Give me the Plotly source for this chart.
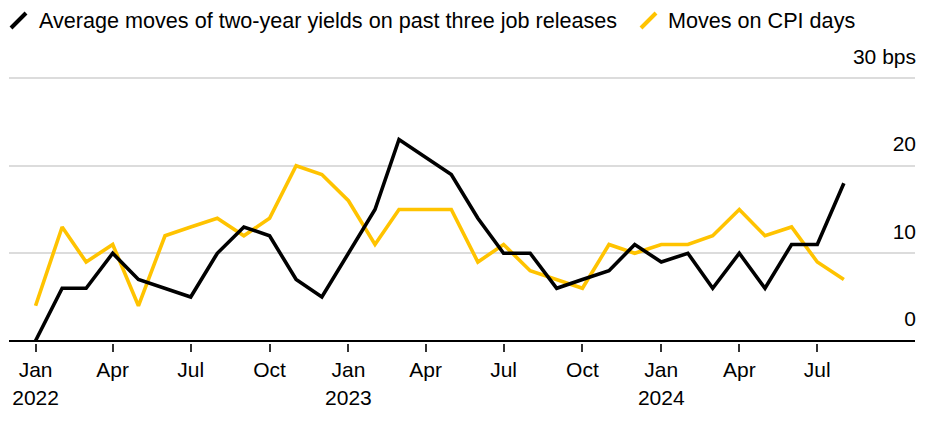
import pandas as pd
import plotly.graph_objects as go

months = pd.date_range("2022-01-01", "2024-08-01", freq="MS")

job_moves = [0, 6, 6, 10, 7, 6, 5, 10, 13, 12, 7, 5,
             10, 15, 23, 21, 19, 14, 10, 10, 6, 7, 8, 11,
             9, 10, 6, 10, 6, 11, 11, 18]
cpi_moves = [4, 13, 9, 11, 4, 12, 13, 14, 12, 14, 20, 19,
             16, 11, 15, 15, 15, 9, 11, 8, 7, 6, 11, 10,
             11, 11, 12, 15, 12, 13, 9, 7]

series_names = ["Average moves of two-year yields on past three job releases",
                "Moves on CPI days"]
series_colors = ["#000000", "#ffc300"]

x_tickvals = pd.date_range("2022-01-01", "2024-07-01", freq="QS")
x_ticktext = ["Jan<br>2022", "Apr", "Jul", "Oct",
              "Jan<br>2023", "Apr", "Jul", "Oct",
              "Jan<br>2024", "Apr", "Jul"]
y_tickvals = [0, 10, 20, 30]
y_ticktext = ["0", "10", "20", "30 bps"]

FONT = "Liberation Sans, Arial, sans-serif"
OFF = 8  # page body margin
W, H = 942 - OFF, 424 - OFF
Y_TOP = 35.5
Y_BOT = -0.25
# target page pixels: x 9..915, y(0)=341, y(30)=78
ppu = (341 - 78) / 30.0
plot_top_page = 341 - (Y_TOP * ppu)
plot_bot_page = 341 - (Y_BOT * ppu)
ML = 9 - OFF
MR = W - (915 - OFF)
MT = int(round(plot_top_page - OFF))
MB = int(round(H - (plot_bot_page - OFF)))
PW, PH = W - ML - MR, H - MT - MB

fig = go.Figure()
for vals, name, col in zip([cpi_moves, job_moves], series_names[::-1], series_colors[::-1]):
    fig.add_trace(go.Scatter(x=months, y=vals, mode="lines", name=name,
                             line=dict(color=col, width=3.6), showlegend=False))


def px_x(px):
    return (px - OFF - ML) / PW


def px_y(py):
    return 1 - (py - OFF - MT) / PH


# legend built from slashes + text
legend_items = [(9, 37, series_names[0], series_colors[0]),
                (639, 666, series_names[1], series_colors[1])]
for sx, tx, name, col in legend_items:
    fig.add_shape(type="line", xref="paper", yref="paper",
                  x0=px_x(sx + 2), x1=px_x(sx + 17), y0=px_y(28), y1=px_y(13),
                  line=dict(color=col, width=4))
    fig.add_annotation(xref="paper", yref="paper", x=px_x(tx), y=px_y(21),
                       xanchor="left", yanchor="middle", showarrow=False,
                       text=name, font=dict(family=FONT, size=21.6, color="#000"))

fig.update_layout(
    width=W, height=H,
    margin=dict(l=ML, r=MR, t=MT, b=MB),
    paper_bgcolor="white", plot_bgcolor="white",
    font=dict(family=FONT, size=21, color="#000"),
    xaxis=dict(
        type="date",
        range=["2021-12-01", "2024-10-23"],
        tickvals=x_tickvals, ticktext=x_ticktext,
        showgrid=False, zeroline=False, showline=False,
        ticks="outside", ticklen=8, tickwidth=1.5, tickcolor="#333",
        tickfont=dict(family=FONT, size=21, color="#000"),
        ticklabelstandoff=0,
    ),
    yaxis=dict(
        side="right",
        range=[Y_BOT, Y_TOP],
        tickvals=y_tickvals, ticktext=y_ticktext,
        showgrid=True, gridcolor="#dcdcdc", gridwidth=1.8,
        zeroline=True, zerolinecolor="#000", zerolinewidth=1.8,
        showline=False, ticks="",
        ticklabelposition="inside top",
        ticklabelshift=-7, ticklabelstandoff=-4,
        tickfont=dict(family=FONT, size=21, color="#000"),
    ),
)

fig.write_html("out.html")
